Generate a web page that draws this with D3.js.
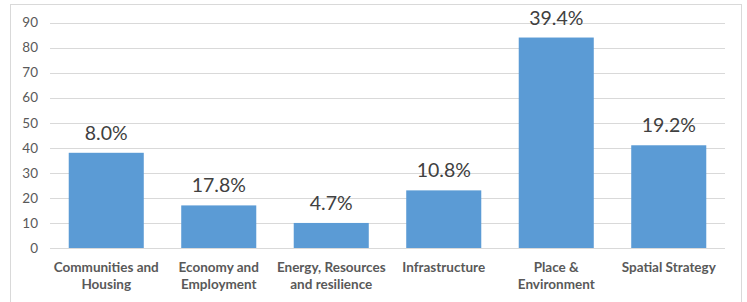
<!DOCTYPE html>
<html><head><meta charset="utf-8">
<script src="https://cdn.jsdelivr.net/npm/d3@7"></script>
<style>body{margin:0;background:#fff;} svg{display:block;}</style>
</head><body>
<script>
const categories = [["Communities and","Housing"],["Economy and","Employment"],["Energy, Resources","and resilience"],["Infrastructure"],["Place &","Environment"],["Spatial Strategy"]];
const values = [38, 17, 10, 23, 84, 41];
const percentLabels = ["8.0%","17.8%","4.7%","10.8%","39.4%","19.2%"];
const yTicks = [0,10,20,30,40,50,60,70,80,90];

(function(){
const W = 747, H = 302;
const svg = d3.select("body").append("svg").attr("width", W).attr("height", H);
svg.append("rect").attr("x",10.5).attr("y",4.5).attr("width",731).attr("height",310)
  .attr("fill","#fff").attr("stroke","#d9d9d9");

const mLeft = 50, mRight = 725, mTop = 22.5, mBottom = 248;
const x = d3.scaleBand().domain(d3.range(categories.length)).range([mLeft, mRight]).paddingInner(0.333).paddingOuter(0.1665);
const y = d3.scaleLinear().domain([0, 90]).range([mBottom, mTop]);

const font = "Lato, 'Open Sans', sans-serif";
const grid = svg.append("g");
yTicks.forEach(t => {
  grid.append("line").attr("x1", mLeft).attr("x2", mRight).attr("y1", Math.round(y(t))+0.5).attr("y2", Math.round(y(t))+0.5)
    .attr("stroke","#d9d9d9").attr("stroke-width",1);
});
const yAxis = d3.axisLeft(y).tickValues(yTicks).tickSize(0).tickPadding(12);
const ga = svg.append("g").attr("transform",`translate(${mLeft},0)`).call(yAxis);
ga.select(".domain").remove();
ga.selectAll("text").attr("font-family",font).attr("font-size",13.5).attr("fill","#595959");

svg.append("g").selectAll("rect").data(values).join("rect")
  .attr("x",(d,i)=>x(i)).attr("width",x.bandwidth())
  .attr("y",d=>y(d)).attr("height",d=>y(0)-y(d)).attr("fill","#5b9bd5");

svg.append("g").selectAll("text").data(values).join("text")
  .attr("x",(d,i)=>x(i)+x.bandwidth()/2).attr("y",d=>y(d)-13)
  .attr("text-anchor","middle").attr("font-family",font).attr("font-size",19.5).attr("fill","#404040")
  .text((d,i)=>percentLabels[i]);

const xAxis = d3.axisBottom(x).tickSize(0).tickFormat(()=> "");
const gx = svg.append("g").attr("transform",`translate(0,${mBottom})`).call(xAxis);
gx.select(".domain").remove();
gx.selectAll(".tick").each(function(d){
  const t = d3.select(this).append("text").attr("text-anchor","middle").attr("font-family",font)
    .attr("font-size",13.5).attr("font-weight","bold").attr("fill","#595959");
  categories[d].forEach((line,j)=>{
    t.append("tspan").attr("x",0).attr("y",24+j*17).text(line);
  });
});
})();
</script>
</body></html>
